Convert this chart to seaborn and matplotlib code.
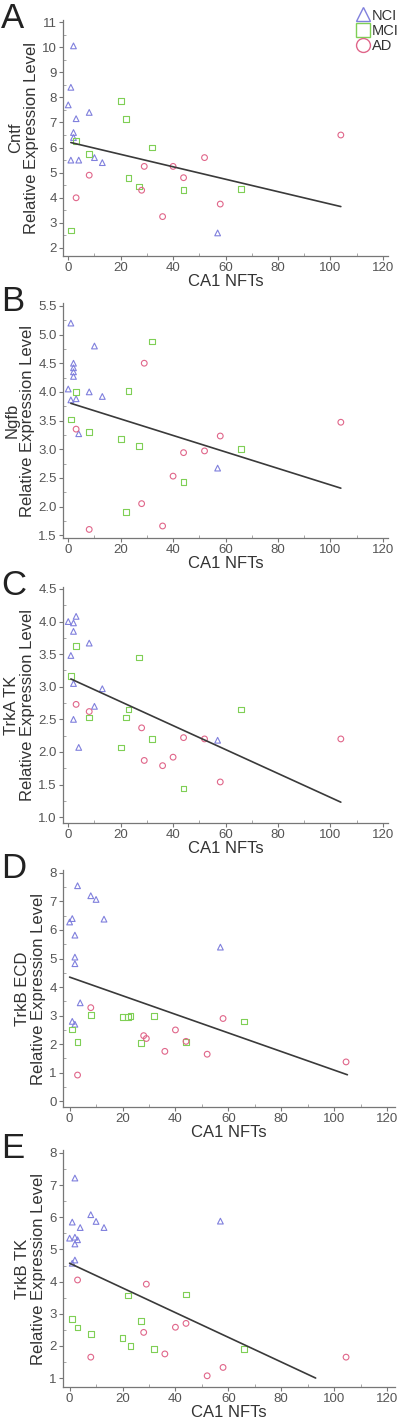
import pandas as pd
import matplotlib
matplotlib.use('Agg')
import matplotlib.pyplot as plt
from matplotlib.lines import Line2D
from matplotlib.ticker import MultipleLocator, AutoMinorLocator, FormatStrFormatter
import seaborn as sns

# CA1 NFT counts shared by the MCI and AD groups
MCI_NFT = [1, 3, 8, 20, 22, 23, 27, 32, 44, 66]
AD_NFT = [3, 8, 28, 29, 36, 40, 44, 52, 58, 104]
AD_NFT_TRKB = [3, 8, 28, 29, 36, 40, 44, 52, 58, 104.5]

# A: Cntf
A_NCI_X = [0, 1, 1, 2, 2, 2, 3, 4, 8, 10, 13, 57]
A_NCI_Y = [7.7, 8.4, 5.5, 10.05, 6.6, 6.4, 7.15, 5.5, 7.4, 5.6, 5.4, 2.6]
A_MCI_Y = [2.7, 6.25, 5.75, 7.85, 7.15, 4.8, 4.45, 6.0, 4.3, 4.35]
A_AD_Y = [4.0, 4.9, 4.3, 5.25, 3.25, 5.25, 4.8, 5.6, 3.75, 6.5]
A_FIT_X = [1, 104]
A_FIT_Y = [6.2, 3.65]

# B: Ngfb
B_NCI_X = [0, 1, 1, 2, 2, 2, 2, 3, 4, 8, 10, 13, 57]
B_NCI_Y = [4.05, 5.2, 3.86, 4.5, 4.42, 4.35, 4.27, 3.88, 3.27, 4.0, 4.8, 3.92, 2.67]
B_MCI_Y = [3.52, 4.0, 3.3, 3.18, 1.9, 4.02, 3.05, 4.88, 2.43, 3.0]
B_AD_Y = [3.35, 1.6, 2.05, 4.5, 1.66, 2.53, 2.94, 2.97, 3.23, 3.47]
B_FIT_X = [1, 104]
B_FIT_Y = [3.8, 2.32]

# C: TrkA TK
C_NCI_X = [0, 1, 2, 2, 2, 2, 3, 4, 8, 10, 13, 57]
C_NCI_Y = [4.0, 3.48, 3.98, 3.85, 3.05, 2.5, 4.08, 2.07, 3.67, 2.7, 2.97, 2.18]
C_MCI_Y = [3.17, 3.63, 2.53, 2.07, 2.53, 2.65, 3.45, 2.2, 1.44, 2.65]
C_AD_Y = [2.73, 2.62, 2.37, 1.87, 1.79, 1.92, 2.22, 2.2, 1.54, 2.2]
C_FIT_X = [1, 104]
C_FIT_Y = [3.12, 1.23]

# D: TrkB ECD
D_NCI_X = [0, 1, 1, 2, 2, 2, 2, 3, 4, 8, 10, 13, 57]
D_NCI_Y = [6.28, 6.4, 2.8, 5.82, 5.05, 4.82, 2.7, 7.55, 3.45, 7.2, 7.07, 6.38, 5.4]
D_MCI_Y = [2.52, 2.07, 3.03, 2.95, 2.95, 2.98, 2.05, 3.0, 2.07, 2.8]
D_AD_Y = [0.92, 3.28, 2.3, 2.2, 1.75, 2.5, 2.1, 1.65, 2.9, 1.38]
D_FIT_X = [0, 105]
D_FIT_Y = [4.35, 0.93]

# E: TrkB TK
E_NCI_X = [0, 1, 1, 2, 2, 2, 2, 3, 4, 8, 10, 13, 57]
E_NCI_Y = [5.35, 5.85, 4.57, 7.22, 5.38, 5.17, 4.67, 5.3, 5.68, 6.08, 5.87, 5.68, 5.88]
E_MCI_Y = [2.83, 2.57, 2.37, 2.25, 3.57, 2.0, 2.77, 1.9, 3.6, 1.9]
E_AD_Y = [4.05, 1.65, 2.42, 3.92, 1.75, 2.58, 2.7, 1.07, 1.33, 1.65]
E_FIT_X = [0, 93]
E_FIT_Y = [4.57, 1.0]

GROUPS = ['NCI', 'MCI', 'AD']
COLORS = {'NCI': '#8080dd', 'MCI': '#7fcf55', 'AD': '#e0668a'}
MARKERS = {'NCI': '^', 'MCI': 's', 'AD': 'o'}

sns.set_style('white')
plt.rcParams['font.family'] = ['Liberation Sans', 'DejaVu Sans']


def make_frame(nci_x, nci_y, mci_y, ad_x, ad_y):
    frames = [
        pd.DataFrame({'nft': nci_x, 'level': nci_y, 'group': 'NCI'}),
        pd.DataFrame({'nft': MCI_NFT, 'level': mci_y, 'group': 'MCI'}),
        pd.DataFrame({'nft': ad_x, 'level': ad_y, 'group': 'AD'}),
    ]
    return pd.concat(frames, ignore_index=True)


def draw_panel(fig, rect, letter, gene, df, fit_x, fit_y, ylim, ymajor, xlim):
    ax = fig.add_axes(rect)
    for g in GROUPS:
        sub = df[df['group'] == g]
        sns.scatterplot(data=sub, x='nft', y='level', ax=ax, marker=MARKERS[g],
                        s=17, facecolor='none', edgecolor=COLORS[g],
                        linewidth=0.8, legend=False)
    sns.lineplot(x=fit_x, y=fit_y, ax=ax, color='#3a3a3a', linewidth=1.2)
    ax.set_xlim(*xlim)
    ax.set_ylim(*ylim)
    ax.xaxis.set_major_locator(MultipleLocator(20))
    ax.xaxis.set_minor_locator(AutoMinorLocator(2))
    ax.yaxis.set_major_locator(MultipleLocator(ymajor))
    ax.yaxis.set_minor_locator(AutoMinorLocator(2))
    if ymajor < 1:
        ax.yaxis.set_major_formatter(FormatStrFormatter('%.1f'))
    for side in ['top', 'right']:
        ax.spines[side].set_visible(False)
    for side in ['left', 'bottom']:
        ax.spines[side].set_color('#777777')
        ax.spines[side].set_linewidth(0.9)
    ax.tick_params(which='major', direction='out', length=3, width=0.8,
                   color='#777777', labelsize=9.5, labelcolor='#555555', pad=1.5)
    ax.tick_params(which='minor', direction='in', length=2.5, width=0.6,
                   color='#999999')
    ax.tick_params(axis='x', which='both', bottom=True)
    ax.tick_params(axis='y', which='both', left=True)
    ax.set_xlabel('CA1 NFTs', fontsize=12, color='#333333', labelpad=0)
    ax.set_ylabel(gene + '\nRelative Expression Level', fontsize=12,
                  color='#333333', labelpad=2, linespacing=1.1)
    fig.text(0.003, rect[1] + rect[3] + 0.013, letter, fontsize=25,
             color='#222222', va='top', ha='left')
    return ax


fig = plt.figure(figsize=(4, 14.2), dpi=100)

xl = (-2, 122)
xl2 = (-2.5, 123)
draw_panel(fig, [0.1575, 0.8197, 0.8125, 0.1662], 'A', 'Cntf',
           make_frame(A_NCI_X, A_NCI_Y, A_MCI_Y, AD_NFT, A_AD_Y),
           A_FIT_X, A_FIT_Y, (1.68, 11.08), 1, xl)
draw_panel(fig, [0.1575, 0.6211, 0.8125, 0.1655], 'B', 'Ngfb',
           make_frame(B_NCI_X, B_NCI_Y, B_MCI_Y, AD_NFT, B_AD_Y),
           B_FIT_X, B_FIT_Y, (1.45, 5.55), 0.5, xl)
draw_panel(fig, [0.1575, 0.4204, 0.8125, 0.1662], 'C', 'TrkA TK',
           make_frame(C_NCI_X, C_NCI_Y, C_MCI_Y, AD_NFT, C_AD_Y),
           C_FIT_X, C_FIT_Y, (0.91, 4.53), 0.5, xl)
draw_panel(fig, [0.1575, 0.2204, 0.83, 0.1669], 'D', 'TrkB ECD',
           make_frame(D_NCI_X, D_NCI_Y, D_MCI_Y, AD_NFT_TRKB, D_AD_Y),
           D_FIT_X, D_FIT_Y, (-0.2, 8.1), 1, xl2)
draw_panel(fig, [0.1575, 0.0232, 0.83, 0.1669], 'E', 'TrkB TK',
           make_frame(E_NCI_X, E_NCI_Y, E_MCI_Y, AD_NFT_TRKB, E_AD_Y),
           E_FIT_X, E_FIT_Y, (0.72, 8.09), 1, xl2)

handles = [Line2D([], [], linestyle='none', marker=MARKERS[g], markersize=10,
                  markerfacecolor='none', markeredgecolor=COLORS[g],
                  markeredgewidth=1.0, label=g) for g in GROUPS]
fig.legend(handles=handles, loc='upper right', bbox_to_anchor=(0.997, 0.994),
           frameon=False, fontsize=10.5, handlelength=0.9, handletextpad=0.15,
           labelspacing=0.1, borderaxespad=0, borderpad=0, labelcolor='#333333')

fig.savefig('out.png', dpi=100)
